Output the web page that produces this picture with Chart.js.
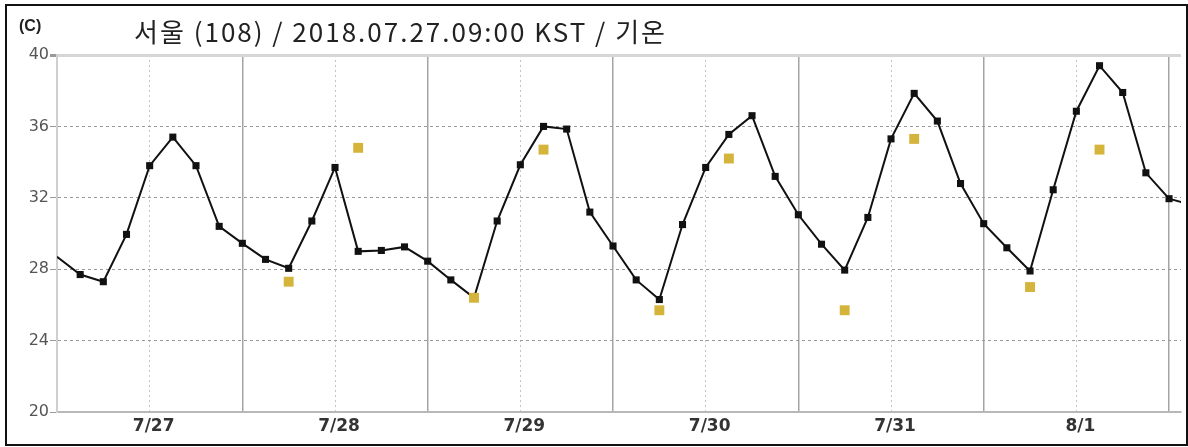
<!DOCTYPE html>
<html>
<head>
<meta charset="utf-8">
<script src="https://cdn.jsdelivr.net/npm/chart.js@4"></script>
<style>
body { margin: 0; background: #fff; }
#wrap { position: relative; width: 1188px; height: 447px; overflow: hidden; }
#frame { position: absolute; left: 5px; top: 4px; width: 1179px; height: 438px; border: 2px solid #111; pointer-events: none; }
#unit { position: absolute; left: 19px; top: 17px; font: bold 16px "Liberation Sans Narrow", "Liberation Sans"; color: #222; }
#title { position: absolute; left: 134px; top: 12px; font: 26px "Noto Sans CJK KR"; letter-spacing: 2px; color: #222; white-space: nowrap; }
canvas { position: absolute; left: 0; top: 0; }
</style>
</head>
<body>
<div id="wrap">
    <canvas id="tempChart" width="1188" height="447"></canvas>
    <div id="unit">(C)</div>
    <div id="title">서울 (108) / 2018.07.27.09:00 KST / 기온</div>
    <div id="frame"></div>
</div>
<script>
// hours since 7/27 00:00 KST
var dayLabels = ['7/27', '7/28', '7/29', '7/30', '7/31', '8/1'];
var gridHours = [0, 12, 24, 36, 48, 60, 72, 84, 96, 108, 120, 132, 144];
var yTicks = [20, 24, 28, 32, 36, 40];

// observed temperature, every 3 hours
var obsHours = [0, 3, 6, 9, 12, 15, 18, 21,
    24, 27, 30, 33, 36, 39, 42, 45,
    48, 51, 54, 57, 60, 63, 66, 69,
    72, 75, 78, 81, 84, 87, 90, 93,
    96, 99, 102, 105, 108, 111, 114, 117,
    120, 123, 126, 129, 132, 135, 138, 141,
    144, 147];
var obsTemps = [28.7, 27.7, 27.3, 29.95, 33.8, 35.4, 33.8, 30.4,
    29.45, 28.55, 28.05, 30.7, 33.7, 29.0, 29.05, 29.25,
    28.45, 27.4, 26.4, 30.7, 33.85, 36.0, 35.85, 31.2,
    29.3, 27.4, 26.3, 30.5, 33.7, 35.55, 36.6, 33.2,
    31.05, 29.4, 27.95, 30.9, 35.3, 37.85, 36.3, 32.8,
    30.55, 29.2, 27.9, 32.45, 36.85, 39.4, 37.9, 33.4,
    31.95, 31.6];

// min / max forecast (yellow squares)
var fcstHours = [30, 39, 54, 63, 78, 87, 102, 111, 126, 135];
var fcstTemps = [27.3, 34.8, 26.4, 34.7, 25.7, 34.2, 25.7, 35.3, 27.0, 34.7];

function toPoints(xs, ys) {
    return xs.map(function (x, i) { return { x: x, y: ys[i] }; });
}

var chart = new Chart(document.getElementById('tempChart'), {
    type: 'line',
    data: {
        datasets: [{
            label: 'forecast',
            data: toPoints(fcstHours, fcstTemps),
            showLine: false,
            pointStyle: 'rect',
            pointRadius: 7,
            pointBorderWidth: 0,
            pointBackgroundColor: '#d4b43a',
            pointBorderColor: '#d4b43a'
        }, {
            label: 'observed',
            data: toPoints(obsHours, obsTemps),
            borderColor: '#111',
            borderWidth: 2,
            tension: 0,
            pointStyle: 'rect',
            pointRadius: function (ctx) { return ctx.dataIndex === 0 ? 0 : 5; },
            pointBorderWidth: 0,
            pointBackgroundColor: '#111',
            pointBorderColor: '#111'
        }]
    },
    options: {
        responsive: false,
        animation: false,
        layout: { padding: { left: 0, top: 55, right: 3, bottom: 0 } },
        plugins: {
            legend: { display: false },
            title: { display: false },
            tooltip: { enabled: false }
        },
        scales: {
            x: {
                type: 'linear',
                min: 0,
                max: 145.55,
                afterBuildTicks: function (scale) {
                    scale.ticks = gridHours.map(function (v) { return { value: v }; });
                },
                afterFit: function (scale) { scale.height = 35; },
                ticks: {
                    autoSkip: false,
                    maxRotation: 0,
                    padding: 4,
                    labelOffset: 4,
                    color: '#333',
                    font: { family: 'DejaVu Sans', size: 17, weight: 'bold' },
                    callback: function (v) { return v % 24 === 12 ? dayLabels[(v - 12) / 24] : ''; }
                },
                grid: {
                    drawTicks: false,
                    color: function (ctx) {
                        if (!ctx.tick) return '#aaa';
                        if (ctx.tick.value === 0) return '#cfcfcf';
                        return ctx.tick.value % 24 === 0 ? '#a4a4a4' : '#c4c4c4';
                    },
                    lineWidth: function (ctx) {
                        return ctx.tick && ctx.tick.value % 24 === 0 ? 1.5 : 1;
                    }
                },
                border: {
                    color: '#b8b8b8',
                    width: 2,
                    dash: function (ctx) {
                        return ctx.tick && ctx.tick.value % 24 !== 0 ? [2, 3] : [];
                    }
                }
            },
            y: {
                min: 20,
                max: 40,
                afterBuildTicks: function (scale) {
                    scale.ticks = yTicks.map(function (v) { return { value: v }; });
                },
                afterFit: function (scale) { scale.width = 57; },
                ticks: {
                    padding: 1,
                    color: '#555',
                    font: { family: 'DejaVu Sans', size: 16 }
                },
                grid: {
                    drawTicks: true,
                    tickLength: 7,
                    tickColor: '#999',
                    color: function (ctx) {
                        if (!ctx.tick) return '#999';
                        if (ctx.tick.value === 40) return '#d6d6d6';
                        if (ctx.tick.value === 20) return '#b8b8b8';
                        return '#9a9a9a';
                    },
                    lineWidth: function (ctx) {
                        return ctx.tick && ctx.tick.value === 40 ? 3 : 1;
                    }
                },
                border: {
                    color: '#cfcfcf',
                    width: 2,
                    dash: function (ctx) {
                        if (!ctx.tick) return [];
                        return ctx.tick.value > 20 && ctx.tick.value < 40 ? [3, 3] : [];
                    }
                }
            }
        }
    }
});
</script>
</body>
</html>
